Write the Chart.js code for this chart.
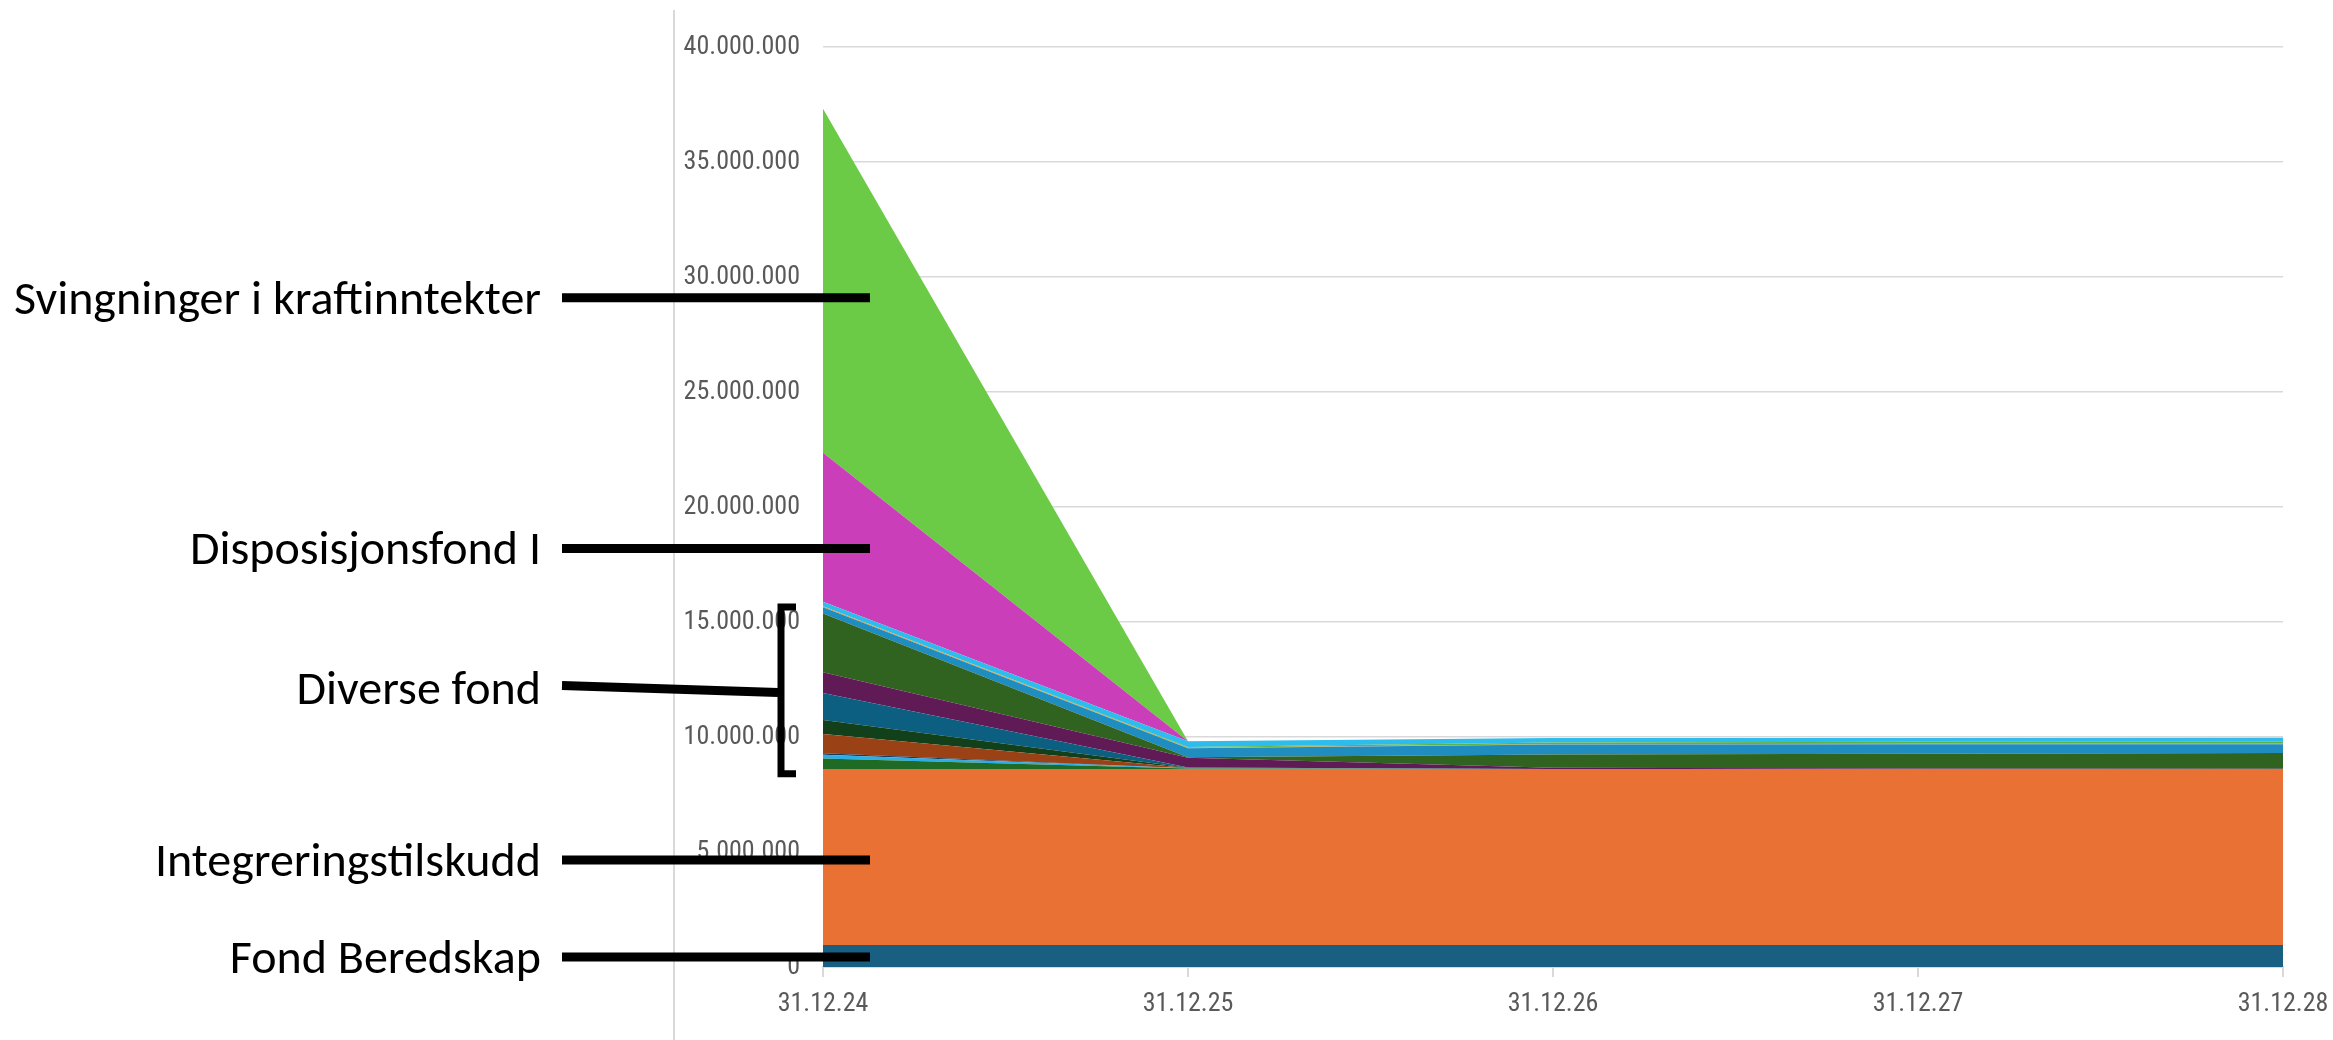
<!DOCTYPE html>
<html lang="no">
<head>
<meta charset="utf-8">
<title>Fond</title>
<script src="https://cdn.jsdelivr.net/npm/chart.js@4/dist/chart.umd.min.js"></script>
<style>
  html, body { margin: 0; padding: 0; background: #fff; }
  #wrap { width: 2333px; height: 1040px; }
</style>
</head>
<body>
<div id="wrap"><canvas id="myChart" width="2333" height="1040"></canvas></div>
<script>
// datoer (kategorier)
const datoer = ["31.12.24", "31.12.25", "31.12.26", "31.12.27", "31.12.28"];

// serier, nederst -> øverst (kr)
const fondBeredskap = [960000, 960000, 960000, 960000, 960000];
const integreringstilskudd = [7650000, 7650000, 7650000, 7650000, 7650000];
const diverse1 = [460000, 20000, 0, 0, 0];
const diverse2 = [160000, 10000, 0, 0, 0];
const diverse3 = [60000, 5000, 0, 0, 0];
const diverse4 = [840000, 10000, 0, 0, 0];
const diverse5 = [610000, 5000, 0, 0, 0];
const diverse6 = [1170000, 10000, 0, 0, 0];
const diverse7 = [910000, 430000, 50000, 20000, 10000];
const diverse8 = [2550000, 20000, 580000, 640000, 680000];
const diverse9 = [270000, 390000, 430000, 410000, 390000];
const diverse10 = [40000, 20000, 20000, 30000, 20000];
const diverse11 = [0, 30000, 70000, 80000, 80000];
const diverse12 = [200000, 260000, 200000, 170000, 180000];
const disposisjonsfond = [6480000, 0, 0, 0, 0];
const svingninger = [14960000, 0, 0, 0, 0];

// y-akse
const yMaks = 40000000;
const ySteg = 5000000;

// merkelapper til venstre, med verdien de peker på
const merkeTekster = ["Svingninger i kraftinntekter", "Disposisjonsfond I", "Diverse fond", "Integreringstilskudd", "Fond Beredskap"];
const merkeVerdier = [29100000, 18200000, 12150000, 4650000, 430000];
const klammeFraTil = [15650000, 8400000];

const serier = [
  { label: "Fond Beredskap", data: fondBeredskap, color: "#185F82" },
  { label: "Integreringstilskudd", data: integreringstilskudd, color: "#E87133" },
  { label: "Diverse fond 1", data: diverse1, color: "#1F6B25" },
  { label: "Diverse fond 2", data: diverse2, color: "#2AAEE4" },
  { label: "Diverse fond 3", data: diverse3, color: "#1B3A5C" },
  { label: "Diverse fond 4", data: diverse4, color: "#9B4116" },
  { label: "Diverse fond 5", data: diverse5, color: "#12401A" },
  { label: "Diverse fond 6", data: diverse6, color: "#0C5F80" },
  { label: "Diverse fond 7", data: diverse7, color: "#601A56" },
  { label: "Diverse fond 8", data: diverse8, color: "#30631F" },
  { label: "Diverse fond 9", data: diverse9, color: "#208DC1" },
  { label: "Diverse fond 10", data: diverse10, color: "#D99A45" },
  { label: "Diverse fond 11", data: diverse11, color: "#5DB346" },
  { label: "Diverse fond 12", data: diverse12, color: "#2DBCEB" },
  { label: "Disposisjonsfond I", data: disposisjonsfond, color: "#CA3EB9" },
  { label: "Svingninger i kraftinntekter", data: svingninger, color: "#6BCB47" },
];

const formatTall = (v) => String(v).replace(/\B(?=(\d{3})+(?!\d))/g, ".");

const tickFont = { family: "'Liberation Sans Narrow', 'Roboto Condensed', 'DejaVu Sans Condensed', sans-serif", size: 26 };
const gra = "#D9D9D9";

// strekene og tekstene som er tegnet oppå grafen
const merker = {
  id: "merker",
  afterDraw(chart) {
    const { ctx, scales: { y } } = chart;
    ctx.save();

    // grå skillelinje til venstre
    ctx.strokeStyle = gra;
    ctx.lineWidth = 2;
    ctx.beginPath();
    ctx.moveTo(674, 10);
    ctx.lineTo(674, 1040);
    ctx.stroke();

    ctx.fillStyle = "#000";
    ctx.strokeStyle = "#000";
    ctx.font = "48px Carlito, Lato, sans-serif";
    ctx.textAlign = "right";
    ctx.textBaseline = "alphabetic";
    ctx.lineWidth = 9;

    merkeTekster.forEach((tekst, i) => {
      const py = y.getPixelForValue(merkeVerdier[i]);
      ctx.fillText(tekst, 541, py + 16);
      ctx.beginPath();
      if (tekst === "Diverse fond") {
        ctx.moveTo(562, py - 2);
        ctx.lineTo(778, py + 5);
      } else {
        ctx.moveTo(562, py);
        ctx.lineTo(870, py);
      }
      ctx.stroke();
    });

    // klamme rundt diverse fond
    const k1 = y.getPixelForValue(klammeFraTil[0]);
    const k2 = y.getPixelForValue(klammeFraTil[1]);
    ctx.lineWidth = 7;
    ctx.beginPath();
    ctx.moveTo(796, k1);
    ctx.lineTo(781, k1);
    ctx.lineTo(781, k2);
    ctx.lineTo(796, k2);
    ctx.stroke();

    ctx.restore();
  },
};

const datasets = serier.map((s, i) => ({
  label: s.label,
  data: s.data,
  backgroundColor: s.color,
  borderColor: s.color,
  borderWidth: 0,
  pointRadius: 0,
  tension: 0,
  fill: i === 0 ? "origin" : "-1",
}));

const config = {
  type: "line",
  data: { labels: datoer, datasets },
  options: {
    responsive: false,
    animation: false,
    layout: { padding: { top: 47, right: 50, bottom: 0, left: 0 } },
    plugins: { legend: { display: false }, tooltip: { enabled: false } },
    scales: {
      x: {
        offset: false,
        grid: { drawOnChartArea: false, drawTicks: true, tickLength: 10, color: gra, lineWidth: 2 },
        border: { display: true, color: gra, width: 2 },
        ticks: { color: "#595959", font: tickFont, padding: 12, maxRotation: 0, autoSkip: false },
        afterFit: (scale) => {
          scale.height = 73;
          scale.paddingRight = 0; // siste etikett får plass i layout-paddingen
        },
      },
      y: {
        stacked: true,
        min: 0,
        max: yMaks,
        grid: { color: gra, lineWidth: 1.5, drawTicks: false },
        border: { display: false },
        ticks: { stepSize: ySteg, color: "#595959", font: tickFont, padding: 23, callback: (v) => formatTall(v) },
        afterFit: (scale) => { scale.width = 823; },
      },
    },
  },
  plugins: [merker],
};

const canvas = document.getElementById("myChart").getContext("2d");
const myChart = new Chart(canvas, config);
</script>
</body>
</html>
